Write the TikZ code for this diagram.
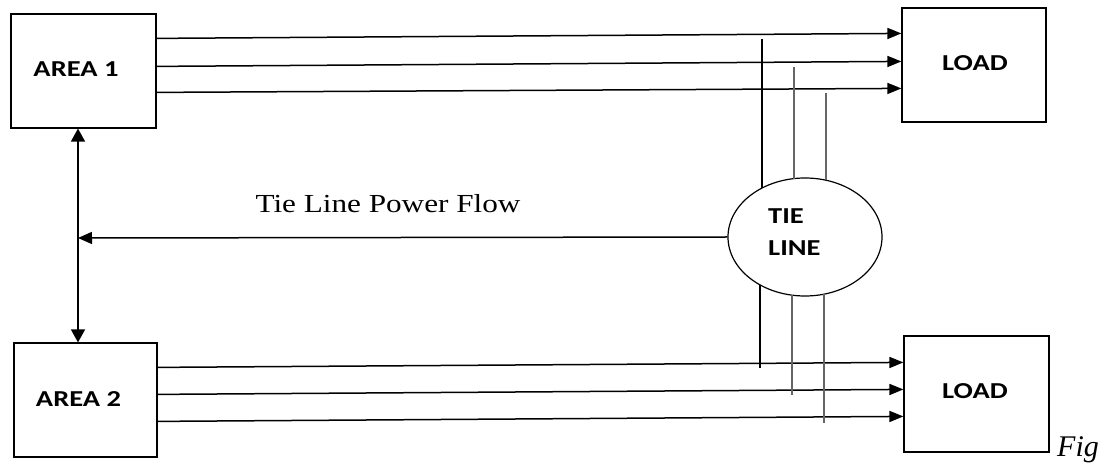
\documentclass[tikz,border=0pt]{standalone}
\usepackage{fontspec}
\setmainfont{Liberation Serif}
\newfontfamily\blocksans[FakeStretch=1.25]{Carlito}
\newfontfamily\flowserif[FakeStretch=1.2]{Liberation Serif}
\usetikzlibrary{arrows.meta,calc,shapes.geometric}

\begin{document}
\begin{tikzpicture}[x=1pt,y=1pt,
  box/.style={draw, line width=1.2pt, inner sep=0pt},
  blk/.style={font=\blocksans\bfseries\fontsize{22.8}{27}\selectfont, inner sep=0pt},
  feed/.style={line width=1.5pt, -{Triangle[length=14pt,width=11pt]}},
  tap/.style={line width=1.2pt},
  faint/.style={line width=1.2pt, draw=black!60},
]
\useasboundingbox (0,0) rectangle (1104,466);

% area and load blocks
\node[box, minimum width=145pt, minimum height=114pt] (a1) at (83.5,395) {};
\node[box, minimum width=143pt, minimum height=114pt] (a2) at (85.5,66) {};
\node[box, minimum width=144pt, minimum height=114pt] (l1) at (974,401) {};
\node[box, minimum width=145pt, minimum height=116pt] (l2) at (976.5,72) {};

\node[blk, anchor=base] (a1t) at (76,389) {AREA 1};
\node[blk, anchor=base] (a2t) at (78.5,59) {AREA 2};
\node[blk, anchor=base] (l1t) at (975,395) {LOAD};
\node[blk, anchor=base] (l2t) at (975,67) {LOAD};

% tie line
\node[draw, ellipse, line width=1.2pt, minimum width=154pt, minimum height=118pt, inner sep=0pt] (ell) at (805,229) {};
\node[blk, anchor=base west] (tie1) at (768,242) {TIE};
\node[blk, anchor=base west] (tie2) at (768,210.3) {LINE};

% feeders from the areas to the loads
\draw[feed] ($(a1.north east)+(0,-25)$) -- ($(l1.north west)+(0,-26)$);
\draw[feed] ($(a1.north east)+(0,-53)$) -- ($(l1.north west)+(0,-54)$);
\draw[feed] ($(a1.north east)+(0,-79)$) -- ($(l1.north west)+(0,-81)$);
\draw[feed] ($(a2.north east)+(0,-25)$) -- ($(l2.north west)+(0,-27)$);
\draw[feed] ($(a2.north east)+(0,-52)$) -- ($(l2.north west)+(0,-54)$);
\draw[feed] ($(a2.north east)+(0,-79)$) -- ($(l2.north west)+(0,-81)$);

% taps from the feeders into the tie line
\coordinate (u1) at (762,427);
\coordinate (u2) at (794,399);
\coordinate (u3) at (826,373);
\coordinate (d1) at (760,98);
\coordinate (d2) at (792,71);
\coordinate (d3) at (824,43);
\draw[tap]   (u1) -- ($(ell.center)+(-43,48.9)$);
\draw[faint] (u2) -- ($(ell.center)+(-11,58.4)$);
\draw[faint] (u3) -- ($(ell.center)+(21,56.8)$);
\draw[tap]   ($(ell.center)+(-45,-47.9)$) -- (d1);
\draw[faint] ($(ell.center)+(-13,-58.2)$) -- (d2);
\draw[faint] ($(ell.center)+(19,-57.2)$) -- (d3);

% interconnection between the areas
\coordinate (bus) at (78,228);
\draw[line width=1.5pt, {Triangle[length=13pt,width=14pt]}-{Triangle[length=13pt,width=14pt]}]
  (a1.south -| bus) -- (a2.north -| bus);
\draw[line width=1.5pt, -{Triangle[length=14pt,width=12pt]}] (ell.west) -- (bus);
\node[font=\flowserif\fontsize{26}{30}\selectfont, anchor=base, inner sep=0pt] (flow) at (388,253) {Tie Line Power Flow};

\node[font=\itshape\fontsize{30}{34}\selectfont, anchor=base west, inner sep=0pt] (fig) at (1057,9) {Fig};
\end{tikzpicture}
\end{document}
